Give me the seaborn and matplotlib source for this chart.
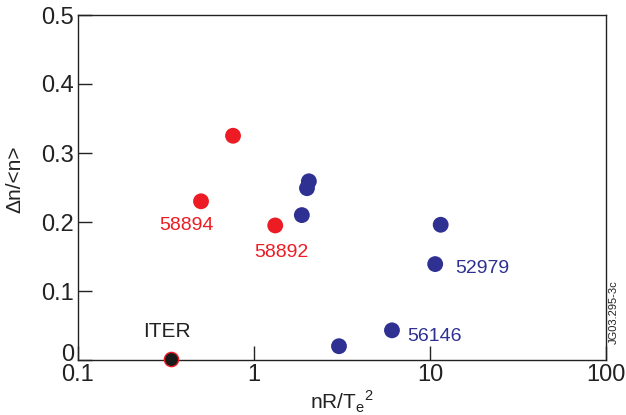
import matplotlib
matplotlib.use("Agg")
import matplotlib.pyplot as plt
import matplotlib.transforms as mtransforms
import seaborn as sns
import pandas as pd

# data
red_x = [0.50, 0.76, 1.32]
red_y = [0.230, 0.325, 0.195]
blue_x = [1.87, 2.0, 2.05, 3.04, 6.08, 10.7, 11.5]
blue_y = [0.210, 0.249, 0.259, 0.020, 0.043, 0.139, 0.196]
iter_x = [0.338]
iter_y = [0.002]
labels = ["58894", "58892", "52979", "56146", "ITER"]
label_x = [0.50, 1.32, 10.7, 6.08, 0.338]
label_y = [0.230, 0.195, 0.139, 0.043, 0.002]

RED = "#ED1C24"
BLUE = "#2E3192"

sns.set_style("ticks")
plt.rcParams['font.family'] = ['Liberation Sans', 'DejaVu Sans']

df = pd.DataFrame({
    "x": red_x + blue_x,
    "y": red_y + blue_y,
    "g": ["red"] * len(red_x) + ["blue"] * len(blue_x),
})

fig = plt.figure(figsize=(6.26, 4.15), dpi=100)
ax = fig.add_axes([78/626, 1-360/415, 528/626, 345/415])

sns.scatterplot(data=df, x="x", y="y", hue="g", palette={"red": RED, "blue": BLUE},
                s=130, linewidth=0, legend=False, ax=ax, zorder=3, clip_on=False)
sns.scatterplot(x=iter_x, y=iter_y, color="#1a1a1a", edgecolor=RED, linewidth=1.0,
                s=105, legend=False, ax=ax, zorder=4, clip_on=False)

ax.set_xscale("log")
ax.set_xlim(0.1, 100)
ax.set_ylim(0, 0.5)
ax.set_xticks([0.1, 1, 10, 100])
ax.set_xticklabels(["0.1", "1", "10", "100"])
ax.minorticks_off()
ax.set_yticks([0, 0.1, 0.2, 0.3, 0.4, 0.5])
ax.set_yticklabels(["0", "0.1", "0.2", "0.3", "0.4", "0.5"])
ax.tick_params(direction="in", length=10, width=1, labelsize=17, colors="#222222")
ax.tick_params(axis="y", pad=3)
ax.tick_params(axis="x", pad=3)
for sp in ax.spines.values():
    sp.set_visible(True)
    sp.set_linewidth(1.0)
    sp.set_color("#222222")
# nudge the "0" y label up a bit as in the reference
lbl0 = ax.get_yticklabels()[0]
lbl0.set_transform(lbl0.get_transform() + mtransforms.ScaledTranslation(0, 8/100, fig.dpi_scale_trans))

ax.set_xlabel(r"nR/T$_\mathregular{e}$$^\mathregular{2}$", fontsize=15, labelpad=2, color="#222222")
ax.set_ylabel("Δn/<n>", fontsize=15, color="#222222")
ax.yaxis.set_label_coords(-0.102, 0.525)

# annotations
offs = [(-42, -24), (-21, -27), (20, -4), (15, -6), (-28, 27)]
cols = [RED, RED, BLUE, BLUE, "#222222"]
sizes = [14, 14, 14, 14, 15]
for t, xx, yy, (dx, dy), c, fs in zip(labels, label_x, label_y, offs, cols, sizes):
    ax.annotate(t, (xx, yy), xytext=(dx, dy), textcoords="offset pixels",
                color=c, fontsize=fs, ha="left", va="center")

fig.text(614/626, 1-312/415, "JG03.295-3c", rotation=90, fontsize=8,
         ha="center", va="center", color="#222222")

fig.savefig("out.png", dpi=100)
